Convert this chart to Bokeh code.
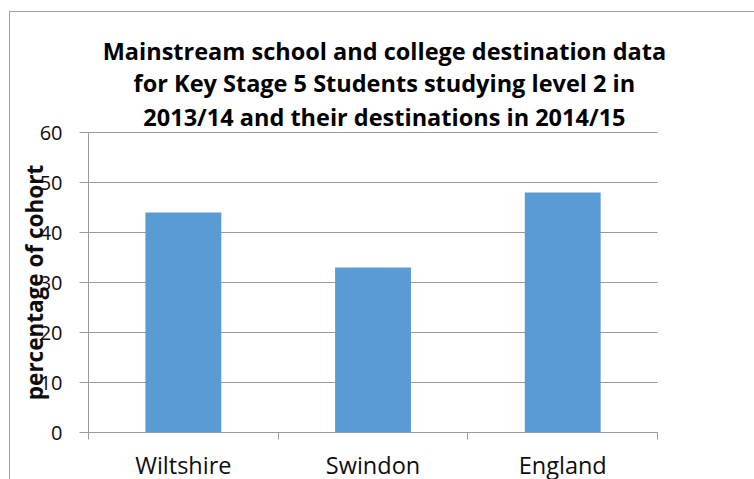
import math
from bokeh.plotting import figure
from bokeh.models import FixedTicker, Range1d, Label
from bokeh.embed import file_html
from bokeh.resources import INLINE

categories = ["Wiltshire", "Swindon", "England"]
values = [44, 33, 48]
y_ticks = [0, 10, 20, 30, 40, 50, 60]
title_lines = [
    "Mainstream school and college destination data",
    "for Key Stage 5 Students studying level 2 in",
    "2013/14 and their destinations in 2014/15",
]
y_label = "percentage of cohort"

FONT = "Open Sans"
GRID = "#9a9a9a"
BORDER = "#a0a0a0"
BAR = "#5B9BD5"
TXT = "#0d0d0d"

n = len(categories)
centers = [i + 0.5 for i in range(n)]

# frame covers the whole canvas; axes are pinned inside it
p = figure(width=754, height=479, output_backend="svg", toolbar_location=None,
           title=None,
           x_range=Range1d(-0.464, 3.511), y_range=Range1d(-9.4, 86.4),
           min_border_left=0, min_border_right=0, min_border_top=0,
           min_border_bottom=0)
p.styles = {
    "background-image": f"linear-gradient({BORDER}, {BORDER}), linear-gradient({BORDER}, {BORDER})",
    "background-size": "100% 1px, 1px 100%",
    "background-position": "9px 11px, 9px 11px",
    "background-repeat": "no-repeat",
}
p.outline_line_color = None
p.background_fill_color = None
p.border_fill_color = None

p.vbar(x=centers, top=values, width=0.4, bottom=0, fill_color=BAR, line_color=None)

# x axis (pinned at y = 0)
xa = p.xaxis[0]
xa.fixed_location = 0
xa.bounds = (0, n)
xa.ticker = FixedTicker(ticks=centers, minor_ticks=list(range(n + 1)))
xa.major_label_overrides = {c: name for c, name in zip(centers, categories)}
xa.major_tick_out = 0
xa.major_tick_in = 0
xa.minor_tick_out = 7
xa.minor_tick_in = 0
xa.minor_tick_line_color = GRID
xa.axis_line_color = GRID
xa.major_label_standoff = 9
xa.major_label_text_font = FONT
xa.major_label_text_font_size = "23.5px"
xa.major_label_text_color = TXT
p.xgrid.grid_line_color = None

# y axis (pinned at x = 0)
ya = p.yaxis[0]
ya.fixed_location = 0
ya.bounds = (0, 60)
ya.ticker = FixedTicker(ticks=y_ticks)
ya.major_tick_out = 9
ya.major_tick_in = 0
ya.minor_tick_line_color = None
ya.major_tick_line_color = GRID
ya.axis_line_color = GRID
ya.major_label_standoff = 17
ya.major_label_text_font = FONT
ya.major_label_text_font_size = "20px"
ya.major_label_text_color = TXT
p.ygrid.grid_line_color = GRID
p.ygrid.grid_line_width = 1
p.ygrid.cross_bounds = (0, n)

p.add_layout(Label(x=-0.283, y=30, text=y_label, angle=math.pi / 2,
                   text_align="center", text_baseline="middle", text_font=FONT,
                   text_font_size="22.5px", text_font_style="bold",
                   text_color=TXT))

title_y = [76.4, 69.9, 63.2]
for line, yy in zip(title_lines, title_y):
    p.add_layout(Label(x=1.56, y=yy, text=line, text_align="center",
                       text_baseline="alphabetic", text_font=FONT,
                       text_font_size="23.5px", text_font_style="bold",
                       text_color="#000000"))

open("out.html", "w").write(file_html(p, INLINE))
